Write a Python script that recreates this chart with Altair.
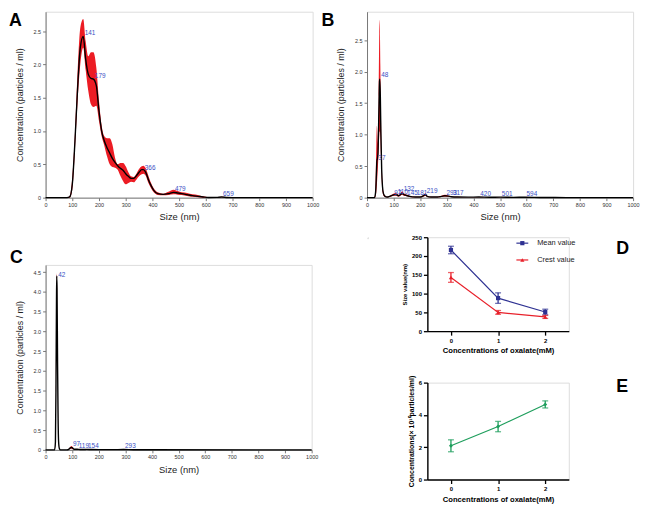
import altair as alt
import pandas as pd

FONT = "Liberation Sans"
RED = "#ec1c24"
LBLUE = "#3a4fc4"
NAVY = "#2e3192"
DRED = "#e8202a"
GREEN = "#1e9e5c"

# ---------------- Panel A (NTA, control) ----------------
a_size = [0, 80, 90, 100, 110, 120, 130, 141, 150, 160,
          170, 179, 190, 200, 210, 220, 230, 240, 250, 260,
          270, 280, 290, 300, 310, 320, 330, 340, 350, 360,
          366, 375, 385, 395, 405, 420, 440, 460, 479, 495,
          510, 530, 550, 570, 590, 610, 640, 659, 680, 700,
          1000]
a_mean = [0, 0, 0.01, 0.2, 0.85, 1.65, 2.25, 2.42, 2.08, 1.85,
          1.79, 1.78, 1.68, 1.3, 1.0, 0.85, 0.75, 0.67, 0.59, 0.53,
          0.48, 0.44, 0.41, 0.36, 0.32, 0.29, 0.29, 0.33, 0.38, 0.42,
          0.42, 0.38, 0.27, 0.18, 0.11, 0.06, 0.05, 0.06, 0.08, 0.07,
          0.06, 0.045, 0.03, 0.02, 0.01, 0.003, 0.004, 0.01, 0.003, 0.001,
          0]
a_high = [0, 0, 0.02, 0.3, 0.97, 1.9, 2.55, 2.68, 2.35, 2.12,
          2.18, 2.18, 1.95, 1.45, 1.08, 0.92, 0.89, 0.89, 0.8, 0.6,
          0.5, 0.52, 0.52, 0.47, 0.38, 0.32, 0.31, 0.36, 0.43, 0.47,
          0.48, 0.44, 0.33, 0.22, 0.14, 0.08, 0.06, 0.09, 0.12, 0.1,
          0.08, 0.07, 0.05, 0.04, 0.02, 0.006, 0.008, 0.015, 0.006, 0.002,
          0]
a_low = [0, 0, 0, 0.12, 0.72, 1.45, 2.0, 2.25, 1.92, 1.6,
         1.4, 1.36, 1.38, 1.15, 0.92, 0.78, 0.62, 0.5, 0.46, 0.45,
         0.42, 0.33, 0.25, 0.2, 0.22, 0.24, 0.23, 0.27, 0.32, 0.35,
         0.36, 0.33, 0.22, 0.14, 0.08, 0.04, 0.035, 0.04, 0.05, 0.045,
         0.04, 0.025, 0.012, 0.005, 0, 0, 0, 0.005, 0, 0,
         0]
a_peak_x = [141, 179, 366, 479, 659]
a_peak_y = [2.47, 1.83, 0.45, 0.13, 0.05]

# ---------------- Panel B ----------------
b_size = [0, 28, 32, 35, 37, 39, 41, 44, 46, 47,
          48, 50, 52, 55, 58, 62, 68, 75, 85, 97,
          105, 110, 118, 126, 132, 138, 145, 160, 181, 200,
          212, 219, 226, 240, 265, 280, 293, 305, 317, 340,
          380, 420, 460, 501, 550, 594, 650, 750, 1000]
b_mean = [0, 0, 0.08, 0.35, 0.58, 0.62, 0.7, 1.25, 1.7, 1.85,
          1.88, 1.6, 1.05, 0.45, 0.18, 0.06, 0.02, 0.01, 0.02, 0.04,
          0.05, 0.05, 0.03, 0.05, 0.07, 0.05, 0.04, 0.02, 0.01, 0.01,
          0.03, 0.05, 0.02, 0.01, 0.01, 0.02, 0.03, 0.025, 0.015, 0.01,
          0.008, 0.01, 0.006, 0.008, 0.005, 0.006, 0.003, 0.001, 0]
b_high = [0, 0, 0.15, 0.85, 1.14, 1.0, 0.85, 1.6, 2.6, 2.82,
          2.75, 2.1, 1.4, 0.6, 0.25, 0.09, 0.03, 0.015, 0.03, 0.06,
          0.07, 0.07, 0.045, 0.07, 0.1, 0.07, 0.055, 0.03, 0.015, 0.015,
          0.045, 0.07, 0.03, 0.015, 0.015, 0.03, 0.045, 0.035, 0.02, 0.013,
          0.01, 0.012, 0.008, 0.01, 0.007, 0.008, 0.004, 0.002, 0]
b_low = [0, 0, 0.02, 0.1, 0.2, 0.35, 0.5, 0.8, 1.0, 1.05,
         1.05, 1.0, 0.7, 0.3, 0.1, 0.03, 0.01, 0.005, 0.01, 0.025,
         0.03, 0.03, 0.015, 0.03, 0.045, 0.03, 0.025, 0.01, 0.005, 0.005,
         0.015, 0.03, 0.01, 0.005, 0.005, 0.01, 0.015, 0.015, 0.01, 0.007,
         0.006, 0.008, 0.004, 0.006, 0.003, 0.004, 0.002, 0, 0]
b_peak_x = [37, 48, 97, 110, 132, 145, 181, 219, 293, 317, 420, 501, 594]
b_peak_y = [0.63, 1.94, 0.08, 0.09, 0.13, 0.08, 0.07, 0.1, 0.07, 0.07, 0.06, 0.06, 0.06]

# ---------------- Panel C ----------------
c_size = [0, 34, 37, 39, 41, 42, 43, 45, 47, 49,
          52, 56, 80, 88, 93, 97, 101, 106, 112, 119,
          130, 145, 154, 170, 200, 250, 293, 330, 400, 1000]
c_mean = [0, 0, 0.2, 1.5, 3.8, 4.4, 4.1, 2.2, 0.8, 0.2,
          0.03, 0, 0, 0.02, 0.05, 0.06, 0.05, 0.02, 0.015, 0.015,
          0.01, 0.01, 0.012, 0.008, 0.005, 0.005, 0.01, 0.004, 0.002, 0]
c_high = [0, 0, 0.25, 1.6, 3.95, 4.47, 4.25, 2.3, 0.85, 0.22,
          0.04, 0, 0, 0.03, 0.08, 0.1, 0.08, 0.03, 0.02, 0.02,
          0.015, 0.013, 0.016, 0.01, 0.007, 0.007, 0.013, 0.005, 0.003, 0]
c_low = [0, 0, 0.15, 1.4, 3.65, 4.33, 3.95, 2.1, 0.75, 0.18,
         0.02, 0, 0, 0.01, 0.03, 0.03, 0.025, 0.01, 0.01, 0.01,
         0.006, 0.007, 0.008, 0.005, 0.003, 0.003, 0.007, 0.002, 0.001, 0]
c_peak_x = [42, 97, 119, 154, 293]
c_peak_y = [4.42, 0.15, 0.11, 0.11, 0.11]

# ---------------- Panel D ----------------
d_conc = [0, 1, 2]
d_series = ["Mean value", "Crest value"]
d_mean = [216, 88, 51]
d_mean_err = [10, 14, 7.5]
d_crest = [143, 50, 38]
d_crest_err = [13, 5, 4]

# ---------------- Panel E ----------------
e_conc = [0, 1, 2]
e_val = [2.09, 3.28, 4.65]
e_err = [0.37, 0.32, 0.22]


def letter(txt, dx, dy, size=18):
    return alt.Chart(pd.DataFrame({"t": [txt]})).mark_text(
        align="left", baseline="top", fontSize=size, fontWeight="bold",
        font=FONT, color="black"
    ).encode(x=alt.value(dx), y=alt.value(dy), text="t:N")


def nta_panel(size, mean, low, high, pk_x, pk_y, ymax, yvals, w, h, let, let_dx, let_dy):
    df = pd.DataFrame({"size": size, "mean": mean, "low": low, "high": high})
    pk = pd.DataFrame({"x": pk_x, "y": pk_y, "t": [str(v) for v in pk_x]})
    xs = alt.Scale(domain=[0, 1000], nice=False, zero=False)
    ys = alt.Scale(domain=[0, ymax], nice=False)
    xa = alt.Axis(values=list(range(0, 1001, 100)), title="Size (nm)", grid=False, format="d",
                  labelFontSize=5.5, labelColor="#333", labelFont=FONT,
                  titleFontSize=9.5, titleFontWeight="normal", titleColor="#222", titleFont=FONT,
                  domainColor="#777", tickColor="#777", tickSize=3, labelPadding=2,
                  titlePadding=4, labelFlush=False, labelOverlap=False)
    ya = alt.Axis(values=yvals, title="Concentration (particles / ml)", grid=False,
                  labelExpr="datum.value == 0 ? '0' : format(datum.value, '.1f')",
                  labelFontSize=5.5, labelColor="#333", labelFont=FONT,
                  titleFontSize=9, titleFontWeight="normal", titleColor="#222", titleFont=FONT,
                  domainColor="#777", tickColor="#777", tickSize=3, labelPadding=2,
                  titlePadding=9, labelOverlap=False)
    band = alt.Chart(df).mark_area(color=RED, interpolate="monotone", opacity=1).encode(
        x=alt.X("size:Q", scale=xs, axis=xa),
        y=alt.Y("high:Q", scale=ys, axis=ya),
        y2="low:Q",
    )
    line = alt.Chart(df).mark_line(color="black", strokeWidth=1.4, interpolate="monotone").encode(
        x=alt.X("size:Q", scale=xs, axis=xa),
        y=alt.Y("mean:Q", scale=ys, axis=ya),
    )
    labels = alt.Chart(pk).mark_text(align="left", baseline="middle", dx=1.5,
                                     fontSize=6.5, color=LBLUE, font=FONT).encode(
        x=alt.X("x:Q", scale=xs, axis=xa),
        y=alt.Y("y:Q", scale=ys, axis=ya),
        text="t:N",
    )
    return alt.layer(band, line, labels, letter(let, let_dx, let_dy)).properties(width=w, height=h)


def small_axes(ytitle, yvals, ydom, ytitle_size):
    xa = alt.Axis(values=[0, 1, 2], title="Concentrations of oxalate(mM)", grid=False,
                  labelFontSize=6, labelFontWeight="bold", labelColor="black", labelFont=FONT,
                  titleFontSize=7.7, titleFontWeight="bold", titleColor="black", titleFont=FONT,
                  domainColor="black", domainWidth=1.4, tickColor="black", tickWidth=1.3,
                  tickSize=4, labelPadding=2, titlePadding=4, labelAngle=0)
    ya = alt.Axis(values=yvals, title=ytitle, grid=False,
                  labelFontSize=6, labelFontWeight="bold", labelColor="black", labelFont=FONT,
                  titleFontSize=ytitle_size, titleFontWeight="bold", titleColor="black", titleFont=FONT,
                  domainColor="black", domainWidth=1.4, tickColor="black", tickWidth=1.3,
                  tickSize=4, labelPadding=2, titlePadding=4)
    xs = alt.Scale(domain=[-0.5, 2.5], nice=False, zero=False)
    ys = alt.Scale(domain=ydom, nice=False)
    return xa, ya, xs, ys


# ---- build A, B, C ----
A = nta_panel(a_size, a_mean, a_low, a_high, a_peak_x, a_peak_y, 2.79,
              [0, 0.5, 1, 1.5, 2, 2.5], 270, 188, "A", -37, 0)
B = nta_panel(b_size, b_mean, b_low, b_high, b_peak_x, b_peak_y, 2.95,
              [0, 0.5, 1, 1.5, 2, 2.5], 269, 188, "B", -46, 0)
C = nta_panel(c_size, c_mean, c_low, c_high, c_peak_x, c_peak_y, 4.68,
              [0, 0.5, 1, 1.5, 2, 2.5, 3, 3.5, 4, 4.5], 269, 187, "C", -36, -16)

# ---- D ----
df_d = pd.DataFrame({
    "conc": d_conc * 2,
    "series": [d_series[0]] * 3 + [d_series[1]] * 3,
    "val": d_mean + d_crest,
    "err": d_mean_err + d_crest_err,
})
df_d["lo"] = df_d["val"] - df_d["err"]
df_d["hi"] = df_d["val"] + df_d["err"]
dxa, dya, dxs, dys = small_axes("Size value(nm)", [0, 50, 100, 150, 200, 250], [0, 250], 6)
dcol = alt.Color("series:N", scale=alt.Scale(domain=d_series, range=[NAVY, DRED]), legend=None)
dshape = alt.Shape("series:N", scale=alt.Scale(domain=d_series, range=["square", "triangle-up"]), legend=None)
dbase = alt.Chart(df_d)
d_line = dbase.mark_line(strokeWidth=1.2).encode(
    x=alt.X("conc:Q", scale=dxs, axis=dxa), y=alt.Y("val:Q", scale=dys, axis=dya), color=dcol)
d_pts = dbase.mark_point(filled=True, size=18, opacity=1).encode(
    x=alt.X("conc:Q", scale=dxs, axis=dxa), y=alt.Y("val:Q", scale=dys, axis=dya),
    color=dcol, shape=dshape)
d_rule = dbase.mark_rule(strokeWidth=1.3).encode(
    x=alt.X("conc:Q", scale=dxs, axis=dxa), y=alt.Y("lo:Q", scale=dys, axis=dya), y2="hi:Q", color=dcol)
d_tlo = dbase.mark_tick(orient="horizontal", size=6, thickness=1.3).encode(
    x=alt.X("conc:Q", scale=dxs, axis=dxa), y=alt.Y("lo:Q", scale=dys, axis=dya), color=dcol)
d_thi = dbase.mark_tick(orient="horizontal", size=6, thickness=1.3).encode(
    x=alt.X("conc:Q", scale=dxs, axis=dxa), y=alt.Y("hi:Q", scale=dys, axis=dya), color=dcol)

# hand-made legend (GraphPad style: line with marker, then label)
leg_layers = []
for name, col, shp, ly in [(d_series[0], NAVY, "square", 6), (d_series[1], DRED, "triangle-up", 23)]:
    ldf = pd.DataFrame({"t": [name]})
    leg_layers.append(alt.Chart(ldf).mark_rule(color=col, strokeWidth=1.2).encode(
        x=alt.value(90), x2=alt.value(102), y=alt.value(ly)))
    leg_layers.append(alt.Chart(ldf).mark_point(color=col, filled=True, opacity=1, shape=shp, size=18).encode(
        x=alt.value(96), y=alt.value(ly)))
    leg_layers.append(alt.Chart(ldf).mark_text(align="left", baseline="middle", fontSize=7.5,
                                               font=FONT, color="#222").encode(
        x=alt.value(111), y=alt.value(ly), text="t:N"))

D = alt.layer(d_line, d_rule, d_tlo, d_thi, d_pts, *leg_layers, letter("D", 191, 3)).properties(width=143, height=95)

# ---- E ----
df_e = pd.DataFrame({"conc": e_conc, "val": e_val, "err": e_err})
df_e["lo"] = df_e["val"] - df_e["err"]
df_e["hi"] = df_e["val"] + df_e["err"]
exa, eya, exs, eys = small_axes("Concentrations(\u00d7 10\u00b9\u2070particles/ml)", [0, 2, 4, 6], [0, 6], 7)
ebase = alt.Chart(df_e)
e_line = ebase.mark_line(color=GREEN, strokeWidth=1.2).encode(
    x=alt.X("conc:Q", scale=exs, axis=exa), y=alt.Y("val:Q", scale=eys, axis=eya))
e_pts = ebase.mark_point(filled=True, size=16, shape="diamond", color=GREEN, opacity=1).encode(
    x=alt.X("conc:Q", scale=exs, axis=exa), y=alt.Y("val:Q", scale=eys, axis=eya))
e_rule = ebase.mark_rule(color=GREEN, strokeWidth=1.3).encode(
    x=alt.X("conc:Q", scale=exs, axis=exa), y=alt.Y("lo:Q", scale=eys, axis=eya), y2="hi:Q")
e_tlo = ebase.mark_tick(orient="horizontal", size=6, thickness=1.3, color=GREEN).encode(
    x=alt.X("conc:Q", scale=exs, axis=exa), y=alt.Y("lo:Q", scale=eys, axis=eya))
e_thi = ebase.mark_tick(orient="horizontal", size=6, thickness=1.3, color=GREEN).encode(
    x=alt.X("conc:Q", scale=exs, axis=exa), y=alt.Y("hi:Q", scale=eys, axis=eya))
E = alt.layer(e_line, e_rule, e_tlo, e_thi, e_pts, letter("E", 191, -5)).properties(width=143, height=98)

# spacer to shift D/E right
spacer = alt.Chart(pd.DataFrame({"a": [0]})).mark_rect(color="white").encode(
    x=alt.value(0), x2=alt.value(1), y=alt.value(0), y2=alt.value(1)
).properties(width=1, height=1)

DE = alt.vconcat(D, E, spacing=18)
right = alt.vconcat(B, alt.hconcat(spacer, DE, spacing=32), spacing=11)
left = alt.vconcat(A, C, spacing=26)

chart = alt.hconcat(left, right, spacing=1).properties(
    padding={"left": 0, "top": 0, "right": 2, "bottom": 0}
).configure_view(stroke=None).configure(background="white")

chart.save("out.html", embed_options={"renderer": "svg", "actions": False})
